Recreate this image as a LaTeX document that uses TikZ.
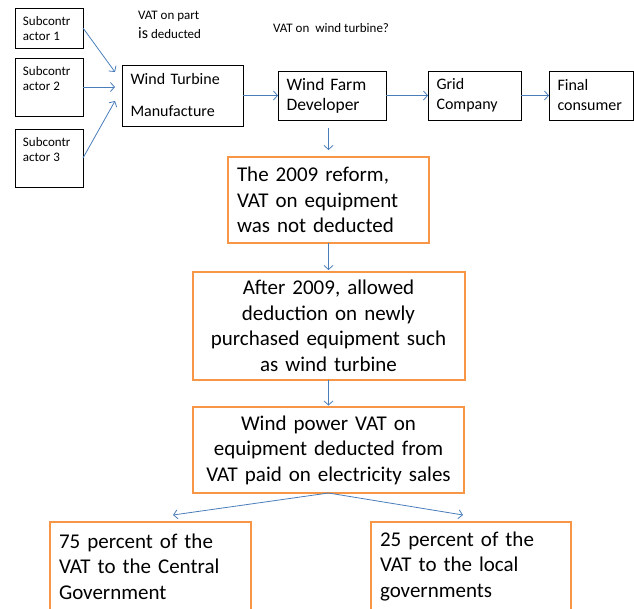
\documentclass[tikz,border=0pt]{standalone}
\usepackage{fontspec}
\setmainfont{Carlito}
\usepackage{xcolor}
\usepackage{tikz}
\usetikzlibrary{arrows.meta, positioning}

\definecolor{vatorange}{HTML}{F79646}
\definecolor{vatblue}{HTML}{4A7EBB}

\begin{document}
\begin{tikzpicture}[
    x=1pt, y=-1pt,
    sub/.style={rectangle, draw, line width=0.8pt, outer sep=0pt, anchor=north west, inner xsep=8pt, inner ysep=8pt, font=\fontsize{13}{15.5}\selectfont},
    firm/.style={rectangle, draw, line width=0.8pt, outer sep=0pt, minimum height=49pt, inner xsep=8.5pt, align=left, font=\fontsize{16}{20}\selectfont},
    stage/.style={rectangle, draw=vatorange, line width=2pt, outer sep=0pt, inner xsep=9pt, font=\fontsize{21}{25.5}\selectfont},
    note/.style={inner sep=0pt, align=left, font=\fontsize{13}{19}\selectfont},
    flow/.style={-{Straight Barb[length=4pt, width=9pt]}, draw=vatblue, line width=0.8pt},
]
\useasboundingbox (0,0) rectangle (634,608);

% Subcontractors
\node[sub] (sub1) at (15,8) {\parbox[t][24pt][t]{52pt}{Subcontr\\actor 1}};
\node[sub] (sub2) at (15,58) {\parbox[t][42pt][t]{52pt}{Subcontr\\actor 2}};
\node[sub] (sub3) at (15,129) {\parbox[t][42pt][t]{52pt}{Subcontr\\actor 3}};

% Supply chain
\node[firm, anchor=north west, text width=104pt, minimum height=61pt] (turbine) at (122,65) {Wind Turbine\\[12pt]Manufacture};
\node[firm, text width=91pt, right=35pt of turbine, font=\fontsize{17.5}{20}\selectfont] (developer) {Wind Farm\\Developer};
\node[firm, text width=76pt, right=42pt of developer] (grid) {Grid\\Company};
\node[firm, text width=67pt, right=28pt of grid] (final) {Final\\consumer};

% Notes
\node[note, anchor=north west] (partnote) at (138,11) {VAT on part\\{\fontsize{16}{19}\selectfont is} deducted};
\node[note, anchor=west] (turbinenote) at (273,28) {VAT on\ \ wind turbine?};

% Reform boxes
\node[stage, text width=183pt, minimum height=86pt, align=left] (reform) at (328.5,200) {The 2009 reform,\\VAT on equipment\\was not deducted};
\node[stage, text width=254pt, minimum height=108pt, align=center, below=29pt of reform] (after) {After 2009, allowed\\deduction on newly\\purchased equipment such\\as wind turbine};
\node[stage, text width=253pt, minimum height=86pt, align=center, below=27pt of after] (sales) {Wind power VAT on\\equipment deducted from\\VAT paid on electricity sales};
\node[stage, anchor=north west, text width=183pt, minimum height=89pt, align=left] (central) at (50,522) {75 percent of the\\VAT to the Central\\Government};
\node[stage, anchor=north west, text width=182pt, minimum height=89pt, align=left] (local) at (371,522) {25 percent of the\\VAT to the local\\governments};

% Arrows
\draw[flow] (sub1.east) -- ([shift={(-7,7)}]turbine.north west);
\draw[flow, shorten >=7pt] (sub2.east) -- (sub2.east -| turbine.west);
\draw[flow] (sub3.east) -- ([shift={(-7,5.5)}]turbine.west);
\draw[flow] (turbine) -- (developer);
\draw[flow] (developer) -- (grid);
\draw[flow] (grid) -- (final);
\draw[flow, shorten <=8pt, shorten >=7pt] (developer.south -| reform.north) -- (reform.north);
\draw[flow, shorten >=2pt] (reform.south) -- (reform.south |- after.north);
\draw[flow, shorten >=1.5pt] (after.south) -- (after.south |- sales.north);
\draw[flow] (sales.south) -- ([shift={(22.5,-7)}]central.north);
\draw[flow] (sales.south) -- ([shift={(-8,-7)}]local.north);

\end{tikzpicture}
\end{document}
